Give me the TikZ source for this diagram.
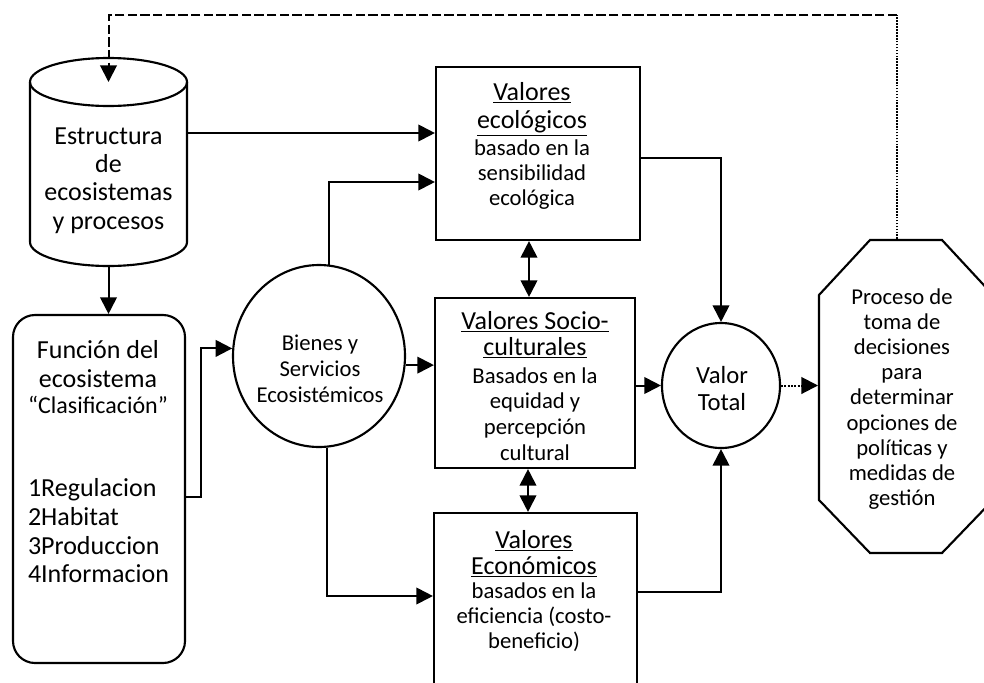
\documentclass[tikz,border=0pt]{standalone}
\usepackage{fontspec}
\setmainfont{Carlito}
\usetikzlibrary{arrows.meta,calc,shapes.geometric}

\begin{document}
\begin{tikzpicture}[x=0.75pt,y=-0.75pt,
  line width=1.5pt,
  arr/.style={-{Triangle[length=12.5pt,width=12.5pt]}},
  darr/.style={{Triangle[length=12.5pt,width=12.5pt]}-{Triangle[length=12.5pt,width=12.5pt]}},
  frame/.style={draw, rectangle, inner sep=0pt, line width=1.6pt},
  holder/.style={rectangle, draw=none, inner sep=0pt},
  oval/.style={draw, ellipse, inner sep=0pt, line width=1.6pt},
  bigtxt/.style={font=\fontsize{19.5}{21.3}\selectfont, align=center, inner sep=0pt},
  txt/.style={font=\fontsize{17}{19.4}\selectfont, align=center, inner sep=0pt},
  head/.style={font=\fontsize{19.5}{20.5}\selectfont, align=center, inner sep=0pt},
  body/.style={font=\fontsize{17}{19}\selectfont, align=center, inner sep=0pt},
  fbdash/.style={dash pattern=on 7pt off 2.5pt, line width=1.5pt},
]
\path[use as bounding box, fill=white] (0,0) rectangle (984,682);
\clip (0,0) rectangle (984,682);

% cylinder: ecosystem structure and processes
\draw[line width=1.6pt] (30,82) -- (30,242)
  arc[start angle=180, end angle=360, x radius=58.875pt, y radius=18pt] -- (187,82);
\draw[line width=1.6pt] (108.5,82) ellipse[x radius=58.875pt, y radius=18pt];
\node[holder, minimum width=117.75pt, minimum height=156pt] (cyl) at (108.5,162) {};
\coordinate (cyltop) at (108.5,82);
\node[bigtxt] (cyltxt) at (108.5,180.5) {Estructura\\de\\ecosistemas\\y procesos};

% ecosystem function box
\node[frame, rounded corners=16.5pt, minimum width=129pt, minimum height=261pt] (fun) at (99,489) {};
\node[bigtxt] (funtxt) at (98,364) {Función del\\ecosistema};
\node[txt, font=\fontsize{18}{20}\selectfont] (clas) at (98,405) {“Clasificación”};
\node[bigtxt, align=left, anchor=west, font=\fontsize{19.5}{21.5}\selectfont] (lista) at (27,531)
  {1Regulacion\\2Habitat\\3Produccion\\4Informacion};

% goods and services
\node[oval, minimum width=129pt, minimum height=136.5pt] (bienes) at (319,356) {};
\node[txt] (bientxt) at (320,368.5) {Bienes y\\Servicios\\Ecosistémicos};

% value boxes
\node[frame, minimum width=153pt, minimum height=129.75pt] (eco) at (538,153.5) {};
\node[head, font=\fontsize{19.5}{21}\selectfont] (ecohead) at (532,109) {\underline{Valores}\\\underline{ecológicos}};
\node[body, font=\fontsize{17}{18.75}\selectfont] (ecobody) at (532,175) {basado en la\\sensibilidad\\ecológica};

\node[frame, minimum width=150pt, minimum height=127.5pt] (socio) at (535,383) {};
\node[head, font=\fontsize{19.5}{19.5}\selectfont] (sociohead) at (535,335) {\underline{Valores Socio-}\\\underline{culturales}};
\node[body, font=\fontsize{17}{19.25}\selectfont] (sociobody) at (535,414) {Basados en la\\equidad y\\percepción\\cultural};

\node[frame, minimum width=152.25pt, minimum height=140.25pt] (econ) at (535.5,606.5) {};
\node[head, font=\fontsize{19.5}{19.5}\selectfont] (econhead) at (534,554) {\underline{Valores}\\\underline{Económicos}};
\node[body, font=\fontsize{17}{18.75}\selectfont] (econbody) at (534,617) {basados en la\\eficiencia (costo-\\beneficio)};

% total value
\node[oval, minimum width=88.5pt, minimum height=93.75pt] (valor) at (721,385.5) {};
\node[txt, font=\fontsize{18.5}{20.2}\selectfont] (valtxt) at (722,388.5) {Valor\\Total};

% decision process (octagon)
\draw[line width=1.6pt] (870,240) -- (942,240) -- (993,295) -- (993,500) -- (942,553)
  -- (870,553) -- (819,500) -- (819,295) -- cycle;
\node[holder, minimum width=130.5pt, minimum height=234.75pt] (oct) at (906,396.5) {};
\node[txt, font=\fontsize{17}{18.9}\selectfont] (octtxt) at (902,399)
  {Proceso de\\toma de\\decisiones\\para\\determinar\\opciones de\\políticas y\\medidas de\\gestión};

% connectors
\draw[arr] (cyl.east |- 0,133) -- (eco.west |- 0,133);
\draw[arr] (cyl.south) -- (fun.north -| cyl.south);
\draw[arr] (fun.east |- 0,497) -- ++(15,0) |- (bienes.175);
\draw[arr] (bienes.84) |- (eco.west |- 0,182);
\draw[arr] (bienes.-6) -- (socio.west |- bienes.-6);
\draw[arr] (bienes.-85) |- (econ.west |- 0,596);
\draw[darr] ($(eco.south)+(-9,0)$) -- ($(socio.north)+(-6,0)$);
\draw[darr] ($(socio.south)+(-7,0)$) -- ($(econ.north)+(-7.5,0)$);
\draw[arr] (eco.east |- 0,158) -| (valor.north);
\draw[arr] (socio.east |- valor.west) -- (valor.west);
\draw[arr] (econ.east |- 0,592) -| (valor.south);
\draw[arr, densely dotted] (valor.east) -- (oct.west |- valor.east);

% feedback loop
\coordinate (fbR) at (897,15);
\coordinate (fbL) at (108.5,15);
\draw[densely dotted, line width=1.2pt] ($(oct.north)+(-9,0)$) -- (fbR);
\draw[fbdash, arr] (fbR) -- (fbL) -- (cyltop);
\end{tikzpicture}
\end{document}
